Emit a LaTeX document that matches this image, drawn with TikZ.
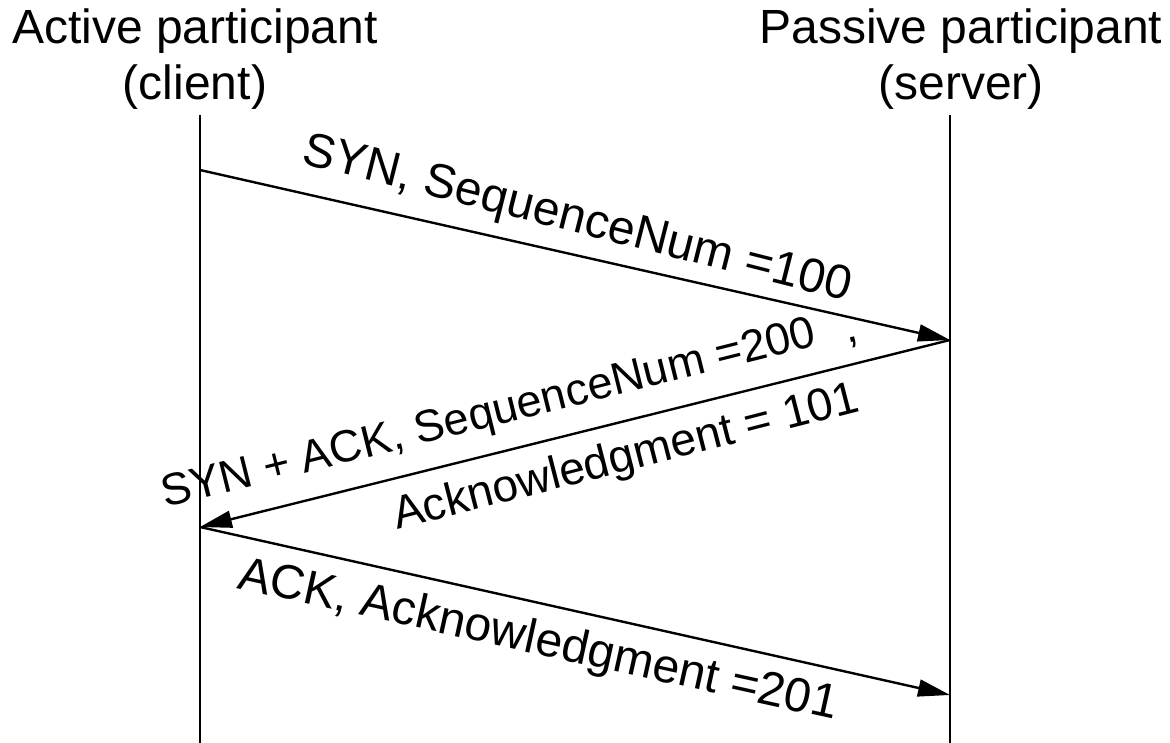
\documentclass[tikz,border=0pt]{standalone}
\usepackage{fontspec}
\setmainfont{Liberation Sans}
\usetikzlibrary{arrows.meta}
\begin{document}
\begin{tikzpicture}[x=1pt,y=1pt,
  hdr/.style={font=\fontsize{48}{56}\selectfont, inner sep=0pt, anchor=base},
  lblA/.style={font=\fontsize{48}{56}\selectfont, inner sep=0pt, anchor=base west},
  lblB/.style={font=\fontsize{45}{52}\selectfont, inner sep=0pt, anchor=base west},
  lblC/.style={font=\fontsize{46}{52}\selectfont, inner sep=0pt, anchor=base west},
  life/.style={line width=2.4pt},
  msg/.style={line width=2.4pt, -{Triangle[length=32pt,width=17pt]}}]
\useasboundingbox (0,0) rectangle (1170,-743);
\node[hdr] (h1) at (195,-44) {Active participant};
\node[hdr] (h2) at (195,-100) {(client)};
\node[hdr] (h3) at (961,-44) {Passive participant};
\node[hdr] (h4) at (961,-100) {(server)};
\coordinate (c0) at (200,-115); \coordinate (c9) at (200,-743);
\coordinate (s0) at (950,-115); \coordinate (s9) at (950,-743);
\draw[life] (c0) -- (c9);
\draw[life] (s0) -- (s9);
\coordinate (a1) at (200,-170); \coordinate (b1) at (950,-340);
\coordinate (a2) at (200,-527); \coordinate (b2) at (950,-695);
\draw[msg] (a1) -- (b1);
\draw[msg] (b1) -- (a2);
\draw[msg] (a2) -- (b2);
\node[lblA, rotate=-14.2] (m1) at (300,-163) {SYN, SequenceNum =100};
\node[lblB, rotate=14] (m2a) at (165,-508) {SYN + ACK, SequenceNum =200\hspace{0.65em}\raisebox{-6pt}{,}};
\node[lblC, rotate=14.4] (m2b) at (397,-530) {Acknowledgment = 101};
\node[lblA, rotate=-12.4] (m3) at (236,-588) {ACK, Acknowledgment =201};
\end{tikzpicture}
\end{document}
